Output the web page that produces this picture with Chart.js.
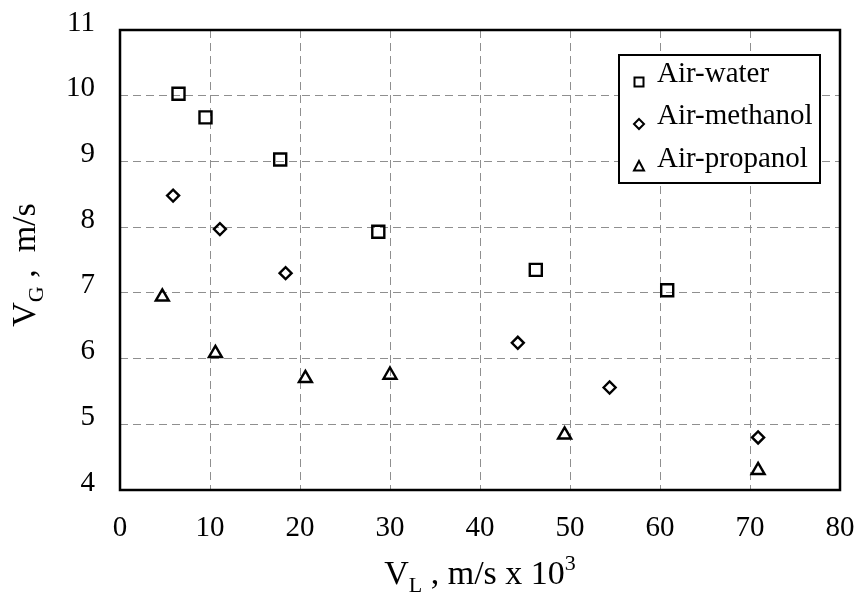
<!DOCTYPE html>
<html>
<head>
<meta charset="utf-8">
<script src="https://cdn.jsdelivr.net/npm/chart.js@4.4.0/dist/chart.umd.min.js"></script>
<style>
  html, body { margin: 0; padding: 0; background: #fff; }
  canvas { display: block; }
</style>
</head>
<body>
<canvas id="graficoVazao" width="856" height="593"></canvas>
<script>
// dados (V_L em m/s x 10^3, V_G em m/s)
var seriesNames = ['Air-water', 'Air-methanol', 'Air-propanol'];
var waterX = [6.5, 9.5, 17.8, 28.7, 46.2, 60.8];
var waterY = [10.03, 9.67, 9.03, 7.93, 7.35, 7.04];
var methanolX = [5.9, 11.1, 18.4, 44.2, 54.4, 70.9];
var methanolY = [8.48, 7.97, 7.30, 6.24, 5.56, 4.80];
var propanolX = [4.7, 10.6, 20.6, 30.0, 49.4, 70.9];
var propanolY = [6.94, 6.08, 5.70, 5.75, 4.84, 4.30];
var xTickLabels = [0, 10, 20, 30, 40, 50, 60, 70, 80];
var yTickLabels = [4, 5, 6, 7, 8, 9, 10, 11];

var fonte = '"Liberation Serif", "Times New Roman", serif';

function pares(xs, ys) {
    return xs.map(function (x, i) { return { x: x, y: ys[i] }; });
}

var estilos = [
    { pointStyle: 'rect', radius: 8.5 },
    { pointStyle: 'rectRot', radius: 6 },
    { pointStyle: 'triangle', radius: 7.5 }
];
var valores = [[waterX, waterY], [methanolX, methanolY], [propanolX, propanolY]];

var dataVazao = {
    datasets: seriesNames.map(function (nome, i) {
        return {
            label: nome,
            data: pares(valores[i][0], valores[i][1]),
            showLine: false,
            pointStyle: estilos[i].pointStyle,
            pointRadius: estilos[i].radius,
            pointBorderWidth: 2.4,
            pointBorderColor: '#000',
            pointBackgroundColor: 'rgba(255,255,255,0)'
        };
    })
};

// escreve texto em partes (subscrito / sobrescrito), centrado em cx
function textoComposto(ctx, partes, cx, base) {
    var larg = partes.reduce(function (s, p) { ctx.font = p.f; return s + ctx.measureText(p.t).width; }, 0);
    var px = cx - larg / 2;
    partes.forEach(function (p) {
        ctx.font = p.f;
        ctx.fillText(p.t, px, base + p.dy);
        px += ctx.measureText(p.t).width;
    });
}

// moldura, legenda e títulos dos eixos
var molduraELegenda = {
    id: 'molduraELegenda',
    afterDraw: function (chart) {
        var ctx = chart.ctx, a = chart.chartArea;
        ctx.save();
        ctx.strokeStyle = '#000';
        ctx.fillStyle = '#000';
        ctx.lineWidth = 2.5;
        ctx.strokeRect(a.left, a.top, a.right - a.left, a.bottom - a.top);

        // legenda
        var lx = a.right - 221, ly = a.top + 25, lw = 201, lh = 128;
        ctx.fillStyle = '#fff';
        ctx.fillRect(lx, ly, lw, lh);
        ctx.lineWidth = 2;
        ctx.strokeRect(lx, ly, lw, lh);
        ctx.fillStyle = '#000';
        ctx.font = '29px ' + fonte;
        ctx.textBaseline = 'alphabetic';
        ctx.textAlign = 'left';
        var linhas = [27, 69, 112];
        seriesNames.forEach(function (nome, i) {
            var by = ly + linhas[i];
            ctx.fillText(nome, lx + 38, by);
            var mx = lx + 20, my = by;
            ctx.beginPath();
            if (i === 0) {
                ctx.rect(mx - 4.5, my - 4.5, 9, 9);
            } else if (i === 1) {
                ctx.moveTo(mx, my - 5); ctx.lineTo(mx + 5, my);
                ctx.lineTo(mx, my + 5); ctx.lineTo(mx - 5, my); ctx.closePath();
            } else {
                ctx.moveTo(mx, my - 6); ctx.lineTo(mx + 5, my + 3.5);
                ctx.lineTo(mx - 5, my + 3.5); ctx.closePath();
            }
            ctx.lineWidth = 2;
            ctx.stroke();
        });

        var grande = '34px ' + fonte, pequeno = '22px ' + fonte;
        // título eixo x: V_L , m/s x 10^3
        textoComposto(ctx, [
            { t: 'V', f: grande, dy: 0 },
            { t: 'L', f: pequeno, dy: 8 },
            { t: ' , m/s x 10', f: grande, dy: 0 },
            { t: '3', f: pequeno, dy: -14 }
        ], (a.left + a.right) / 2, 584);

        // título eixo y: V_G , m/s
        ctx.translate(35, 265);
        ctx.rotate(-Math.PI / 2);
        textoComposto(ctx, [
            { t: 'V', f: grande, dy: 0 },
            { t: 'G', f: pequeno, dy: 8 },
            { t: ' ,  m/s', f: grande, dy: 0 }
        ], 0, 0);
        ctx.restore();
    }
};

var optionsVazao = {
    responsive: false,
    animation: false,
    layout: { padding: { top: 30, right: 16, left: 0, bottom: 0 } },
    scales: {
        x: {
            type: 'linear',
            min: xTickLabels[0],
            max: xTickLabels[xTickLabels.length - 1],
            afterFit: function (s) { s.height = 103; s.paddingLeft = 0; s.paddingRight = 0; },
            afterBuildTicks: function (s) { s.ticks = xTickLabels.map(function (v) { return { value: v }; }); },
            ticks: { font: { family: fonte, size: 29 }, color: '#000', padding: 21 },
            grid: { color: '#8f8f8f', drawTicks: false, lineWidth: 1 },
            border: { display: false, dash: [8, 5] }
        },
        y: {
            type: 'linear',
            min: yTickLabels[0],
            max: yTickLabels[yTickLabels.length - 1],
            afterFit: function (s) { s.width = 120; s.paddingTop = 0; s.paddingBottom = 0; },
            afterBuildTicks: function (s) { s.ticks = yTickLabels.map(function (v) { return { value: v }; }); },
            ticks: { font: { family: fonte, size: 29 }, color: '#000', padding: 25, labelOffset: -7 },
            grid: { color: '#8f8f8f', drawTicks: false, lineWidth: 1 },
            border: { display: false, dash: [8, 5] }
        }
    },
    plugins: {
        legend: { display: false },
        tooltip: { enabled: false }
    }
};

var graficoVazao = new Chart(document.getElementById('graficoVazao').getContext('2d'), {
    type: 'scatter',
    data: dataVazao,
    options: optionsVazao,
    plugins: [molduraELegenda]
});
</script>
</body>
</html>
